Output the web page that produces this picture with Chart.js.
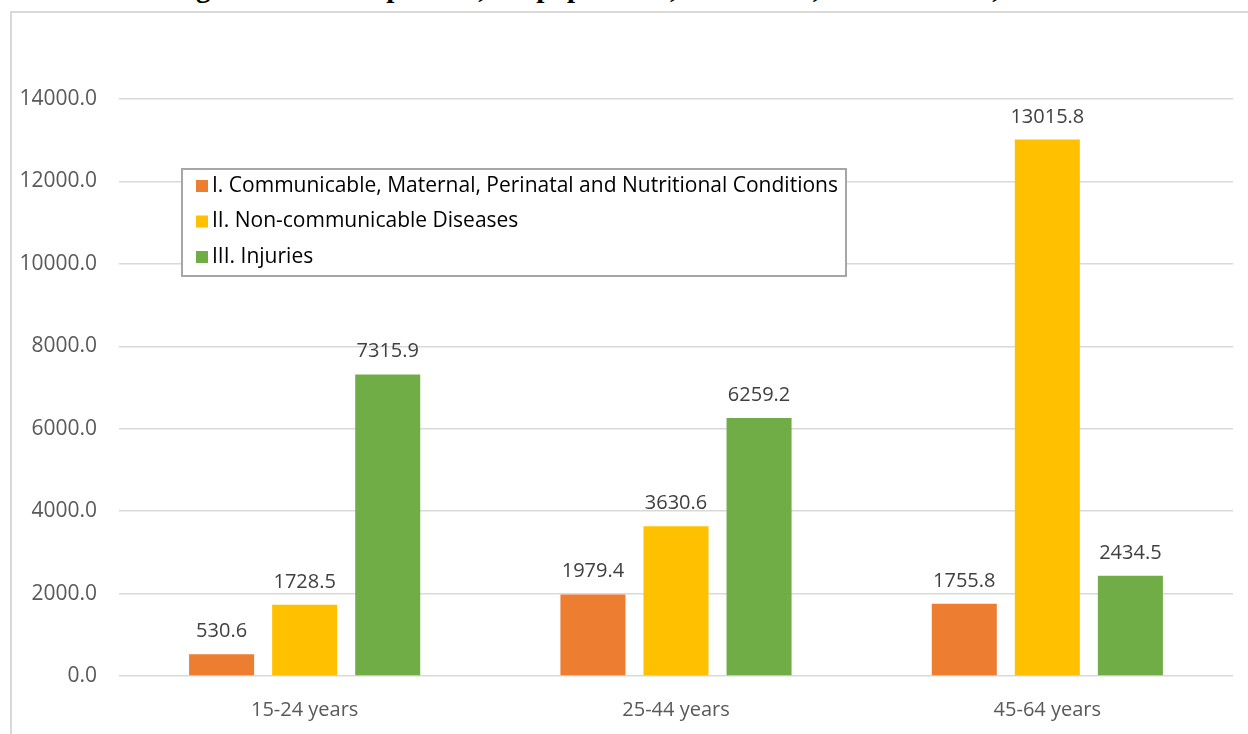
<!DOCTYPE html>
<html>
<head>
<meta charset="utf-8">
<script src="https://cdn.jsdelivr.net/npm/chart.js@4/dist/chart.umd.min.js"></script>
<style>
    html, body { margin: 0; padding: 0; background: #fff; overflow: hidden; }
    #wrap { position: relative; width: 1248px; height: 734px; }
    #titulo {
        position: absolute; left: 0; top: -29px; width: 1248px; text-align: center;
        font: bold 29px "Liberation Serif", serif; color: #000; white-space: nowrap;
    }
    #grafico { position: absolute; left: 0; top: 0; }
</style>
</head>
<body>
<div id="wrap">
    <div id="titulo">Figure 9. DALYs per 100,000 population, GBD 2019, United States, males</div>
    <canvas id="grafico" width="1248" height="734"></canvas>
</div>
<script>
const categorias = ['15-24 years', '25-44 years', '45-64 years'];
const transmissiveis = [530.6, 1979.4, 1755.8];
const naoTransmissiveis = [1728.5, 3630.6, 13015.8];
const lesoes = [7315.9, 6259.2, 2434.5];
const nomesSeries = [
    'I. Communicable, Maternal, Perinatal and Nutritional Conditions',
    'II. Non-communicable Diseases',
    'III. Injuries'
];
const cores = ['#ED7D31', '#FFC000', '#70AD47'];
const yMax = 14000;
const yPasso = 2000;

const fonte = '"Open Sans", "Liberation Sans", sans-serif';

// moldura cinza, rótulos de dados e legenda
const extras = {
    id: 'extras',
    beforeDraw(chart) {
        const ctx = chart.ctx;
        ctx.save();
        ctx.strokeStyle = '#d9d9d9';
        ctx.lineWidth = 2;
        ctx.strokeRect(11, 12, 1400, 900);
        ctx.restore();
    },
    afterDatasetsDraw(chart) {
        const ctx = chart.ctx;
        ctx.save();
        ctx.font = '20px ' + fonte;
        ctx.fillStyle = '#404040';
        ctx.textAlign = 'center';
        ctx.textBaseline = 'alphabetic';
        chart.data.datasets.forEach((ds, i) => {
            chart.getDatasetMeta(i).data.forEach((bar, j) => {
                ctx.fillText(ds.data[j].toFixed(1), bar.x, bar.y - 17);
            });
        });

        const lx = 182, ly = 169, lw = 664, lh = 107;
        ctx.fillStyle = '#fff';
        ctx.fillRect(lx, ly, lw, lh);
        ctx.strokeStyle = '#a6a6a6';
        ctx.lineWidth = 2;
        ctx.strokeRect(lx, ly, lw, lh);
        ctx.font = '21px ' + fonte;
        ctx.textAlign = 'left';
        ctx.textBaseline = 'middle';
        chart.data.datasets.forEach((ds, i) => {
            const y = 186 + i * 35.5;
            ctx.fillStyle = ds.backgroundColor;
            ctx.fillRect(196, y - 6, 12, 12);
            ctx.fillStyle = '#000';
            ctx.fillText(ds.label, 212, y);
        });
        ctx.restore();
    }
};

new Chart(document.getElementById('grafico').getContext('2d'), {
    type: 'bar',
    data: {
        labels: categorias,
        datasets: [
            { label: nomesSeries[0], data: transmissiveis, backgroundColor: cores[0] },
            { label: nomesSeries[1], data: naoTransmissiveis, backgroundColor: cores[1] },
            { label: nomesSeries[2], data: lesoes, backgroundColor: cores[2] }
        ]
    },
    options: {
        responsive: false,
        animation: false,
        categoryPercentage: 0.671,
        barPercentage: 0.783,
        layout: { padding: { left: 10, right: 15, top: 99, bottom: 0 } },
        plugins: {
            legend: { display: false },
            tooltip: { enabled: false }
        },
        scales: {
            x: {
                grid: { display: false },
                border: { display: false },
                ticks: { color: '#595959', font: { family: fonte, size: 20 }, padding: 14 },
                afterFit: scale => { scale.height = 58; }
            },
            y: {
                min: 0,
                max: yMax,
                ticks: {
                    stepSize: yPasso,
                    color: '#595959',
                    font: { family: fonte, size: 21 },
                    padding: 22,
                    callback: v => v.toFixed(1)
                },
                grid: { color: '#d9d9d9', lineWidth: 1.5, drawTicks: false },
                border: { display: false },
                afterFit: scale => { scale.width = 109; }
            }
        }
    },
    plugins: [extras]
});
</script>
</body>
</html>
